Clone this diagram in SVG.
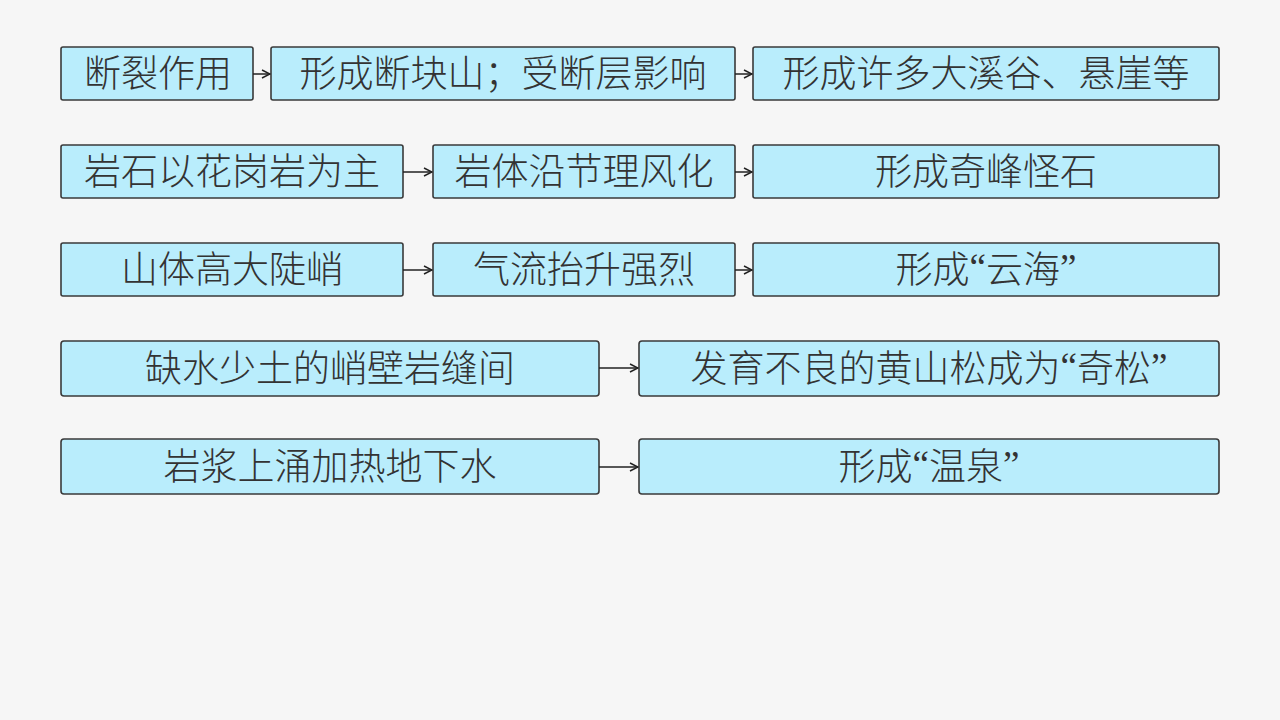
<svg xmlns="http://www.w3.org/2000/svg" width="1280" height="720" viewBox="0 0 1280 720">
<defs>
<marker id="ah" viewBox="0 0 10 10" refX="9" refY="5" markerWidth="10" markerHeight="10" markerUnits="userSpaceOnUse" orient="auto">
<path d="M1,1 L9,5 L1,9" fill="none" stroke="#222" stroke-width="1.5"/>
</marker>
</defs>
<style>
.b{fill:#b9edfc;stroke:#3a3a3a;stroke-width:1.6}
.t{font-family:"Noto Sans CJK SC","Noto Sans CJK JP",sans-serif;font-size:37px;font-weight:300;fill:#333;text-anchor:middle;dominant-baseline:central}
.q{font-family:"Liberation Serif","Noto Sans CJK SC",serif}
.c{stroke:#222;stroke-width:1.5;fill:none;marker-end:url(#ah)}
</style>
<rect width="1280" height="720" fill="#f6f6f6"/>
<g id="n1"><rect class="b" x="61" y="47" width="192" height="53" rx="2"/><text class="t" x="158" y="71">断裂作用</text></g>
<g id="n2"><rect class="b" x="271" y="47" width="464" height="53" rx="2"/><text class="t" x="503" y="71">形成断块山；受断层影响</text></g>
<g id="n3"><rect class="b" x="753" y="47" width="466" height="53" rx="2"/><text class="t" x="986" y="71">形成许多大溪谷、悬崖等</text></g>
<g id="n4"><rect class="b" x="61" y="145" width="342" height="53" rx="2"/><text class="t" x="232" y="169">岩石以花岗岩为主</text></g>
<g id="n5"><rect class="b" x="433" y="145" width="302" height="53" rx="2"/><text class="t" x="584" y="169">岩体沿节理风化</text></g>
<g id="n6"><rect class="b" x="753" y="145" width="466" height="53" rx="2"/><text class="t" x="986" y="169">形成奇峰怪石</text></g>
<g id="n7"><rect class="b" x="61" y="243" width="342" height="53" rx="2"/><text class="t" x="232" y="267">山体高大陡峭</text></g>
<g id="n8"><rect class="b" x="433" y="243" width="302" height="53" rx="2"/><text class="t" x="584" y="267">气流抬升强烈</text></g>
<g id="n9"><rect class="b" x="753" y="243" width="466" height="53" rx="2"/><text class="t" x="986" y="267">形成<tspan class="q">“</tspan>云海<tspan class="q">”</tspan></text></g>
<g id="n10"><rect class="b" x="61" y="341" width="538" height="55" rx="3"/><text class="t" x="330" y="366">缺水少土的峭壁岩缝间</text></g>
<g id="n11"><rect class="b" x="639" y="341" width="580" height="55" rx="3"/><text class="t" x="929" y="366">发育不良的黄山松成为<tspan class="q">“</tspan>奇松<tspan class="q">”</tspan></text></g>
<g id="n12"><rect class="b" x="61" y="439" width="538" height="55" rx="3"/><text class="t" x="330" y="464">岩浆上涌加热地下水</text></g>
<g id="n13"><rect class="b" x="639" y="439" width="580" height="55" rx="3"/><text class="t" x="929" y="464">形成<tspan class="q">“</tspan>温泉<tspan class="q">”</tspan></text></g>
<g id="connectors">
<line class="c" x1="253" y1="74" x2="270" y2="74"/>
<line class="c" x1="735" y1="74" x2="752" y2="74"/>
<line class="c" x1="403" y1="172" x2="432" y2="172"/>
<line class="c" x1="735" y1="172" x2="752" y2="172"/>
<line class="c" x1="403" y1="270" x2="432" y2="270"/>
<line class="c" x1="735" y1="270" x2="752" y2="270"/>
<line class="c" x1="599" y1="368" x2="638" y2="368"/>
<line class="c" x1="599" y1="467" x2="638" y2="467"/>
</g>
</svg>
